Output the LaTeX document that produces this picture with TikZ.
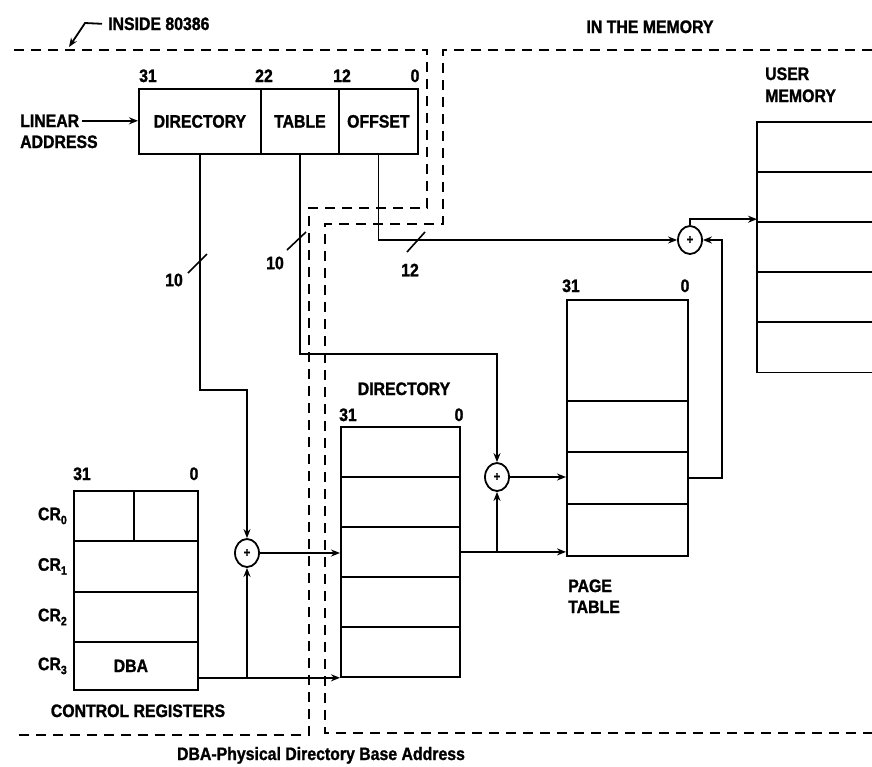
\documentclass[tikz,border=0pt]{standalone}
\usepackage{fontspec}
\setmainfont{Liberation Sans}[FakeStretch=0.88,FakeBold=1.3]
\usetikzlibrary{arrows.meta,shapes.geometric,calc}
\newcommand\crsub[1]{\raisebox{-4pt}{\fontsize{12}{12}\selectfont #1}}
\newcommand\plussign{\fontsize{13}{13}\selectfont +}
\begin{document}
\begin{tikzpicture}[x=1pt,y=-1pt,
  every node/.style={font=\fontsize{18}{21}\selectfont\bfseries, inner sep=0pt},
  cell/.style={draw,line width=1.8pt,anchor=north west},
  wire/.style={line width=1.8pt},
  arr/.style={wire,-{Stealth[length=9pt,width=7pt]}},
  bound/.style={line width=2pt,dash pattern=on 10pt off 7pt},
  adder/.style={draw,ellipse,line width=1.8pt,minimum width=24pt,minimum height=28pt},
  tick/.style={line width=1.6pt}
]
\fill[white] (0,0) rectangle (872,766);
\useasboundingbox (0,0) rectangle (872,766);

% dashed boundaries
\draw[bound] (14,50) -- (427,50) -- (427,208) -- (309,208) -- (309,735) -- (14,735);
\draw[bound] (872,50) -- (443,50) -- (443,224) -- (325,224) -- (325,733) -- (872,733);

% titles
\node[anchor=base west] (inside) at (108,30) {INSIDE 80386};
\coordinate (insbend) at (85,23);
\coordinate (insarrow) at (69,47);
\draw[arr] ([xshift=-6pt]inside.west) -- (insbend) -- (insarrow);
\node[anchor=base] (mem) at (650,33) {IN THE MEMORY};

% linear address
\node[cell,minimum width=122pt,minimum height=65pt] (dir) at (138,88) {DIRECTORY};
\node[cell,minimum width=78pt,minimum height=65pt] (tab) at (260,88) {TABLE};
\node[cell,minimum width=79pt,minimum height=65pt] (off) at (338,88) {OFFSET};
\node[anchor=base] (la31) at (148,82) {31};
\node[anchor=base] (la22) at (264,82) {22};
\node[anchor=base] (la12) at (342,82) {12};
\node[anchor=base] (la0) at (415,82) {0};
\node[anchor=base west] (lin) at (20,127) {LINEAR};
\node[anchor=base west] (adr) at (20,148) {ADDRESS};
\draw[arr] ([xshift=3pt]lin.east) -- (lin.east -| dir.west);

% control registers
\node[cell,minimum width=60pt,minimum height=50pt] (cr0a) at (73,490) {};
\node[cell,minimum width=64pt,minimum height=50pt] (cr0b) at (133,490) {};
\node[cell,minimum width=124pt,minimum height=51pt] (cr1) at (73,540) {};
\node[cell,minimum width=124pt,minimum height=50pt] (cr2) at (73,591) {};
\node[cell,minimum width=124pt,minimum height=48pt] (cr3) at (73,641) {DBA\hspace*{10pt}};
\node[anchor=east] (lcr0) at ([xshift=-6pt]cr0a.west) {CR\crsub{0}};
\node[anchor=east] (lcr1) at ([xshift=-6pt]cr1.west) {CR\crsub{1}};
\node[anchor=east] (lcr2) at ([xshift=-6pt]cr2.west) {CR\crsub{2}};
\node[anchor=east] (lcr3) at ([xshift=-6pt]cr3.west) {CR\crsub{3}};
\node[anchor=base] (cr31) at (82,480) {31};
\node[anchor=base] (cr00) at (194,480) {0};
\node[anchor=base] (crlab) at (138,717) {CONTROL REGISTERS};

% directory
\node[anchor=base] (dirlab) at (404,395) {DIRECTORY};
\node[anchor=base] (d31) at (348,421) {31};
\node[anchor=base] (d00) at (459,421) {0};
\node[cell,minimum width=119pt,minimum height=50pt] (d1) at (340,426) {};
\node[cell,minimum width=119pt,minimum height=50pt] (d2) at (340,476) {};
\node[cell,minimum width=119pt,minimum height=50pt] (d3) at (340,526) {};
\node[cell,minimum width=119pt,minimum height=50pt] (d4) at (340,576) {};
\node[cell,minimum width=119pt,minimum height=50pt] (d5) at (340,626) {};

% page table
\node[cell,minimum width=121pt,minimum height=101pt] (p1) at (566,299) {};
\node[cell,minimum width=121pt,minimum height=51pt] (p2) at (566,400) {};
\node[cell,minimum width=121pt,minimum height=52pt] (p3) at (566,451) {};
\node[cell,minimum width=121pt,minimum height=52pt] (p4) at (566,503) {};
\node[anchor=base] (p31) at (571,292) {31};
\node[anchor=base] (p00) at (685,292) {0};
\node[anchor=base west] (pglab1) at (568,592) {PAGE};
\node[anchor=base west] (pglab2) at (568,613) {TABLE};

% user memory
\node[anchor=north west,minimum width=115pt,minimum height=250pt] (umem) at (757,122) {};
\draw[wire] (umem.north east) -- (umem.north west) -- (umem.south west) -- (umem.south east);
\foreach \k in {50,100,150,200}
  \draw[wire] ($(umem.north west)+(0,\k)$) -- ($(umem.north east)+(0,\k)$);
\node[anchor=base west] (um1) at (765,80) {USER};
\node[anchor=base west] (um2) at (765,102) {MEMORY};

% adders
\node[adder] (add1) at (247,553) {\plussign};
\node[adder] (add2) at (497,477) {\plussign};
\node[adder] (add3) at (690,240) {\plussign};

% connectors
\draw[arr] (dir.south) -- ++(0,235) -| (add1.north);
\draw[arr] (tab.south) -- ++(0,199) -| (add2.north);
\draw[arr] (off.south) |- (add3.west);
\draw[arr] (add3.north) |- ($(umem.west)+(0,-28)$);
\draw[arr] (p3.east) -- ++(33,0) |- (add3.east);
\draw[arr] (add2.east) -- (add2.east -| p3.west);
\draw[arr] (d3.east) -- (d3.east -| p4.west);
\draw[arr] (add2.south |- d3.east) -- (add2.south);
\draw[arr] (add1.east) -- (add1.east -| d3.west);
\draw[arr] (cr3.east |- d5.south west) -- (d5.south west);
\draw[arr] (add1.south |- d5.south west) -- (add1.south);

% bus width ticks
\draw[tick] (188,273) -- (207,254);
\node (w1) at (174,280) {10};
\draw[tick] (287,250) -- (306,232);
\node (w2) at (275,263) {10};
\draw[tick] (407,252) -- (425,232);
\node (w3) at (410,270) {12};

\node[anchor=base] (foot) at (321,760) {DBA-Physical Directory Base Address};
\end{tikzpicture}
\end{document}
